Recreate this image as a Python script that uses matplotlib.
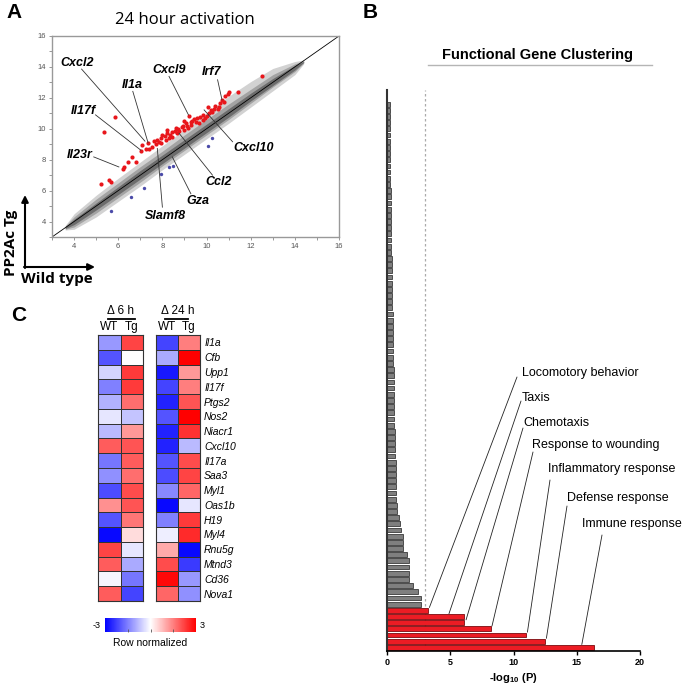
import matplotlib.pyplot as plt
import numpy as np
from matplotlib.lines import Line2D

plt.rcParams['font.family'] = ['Liberation Sans', 'DejaVu Sans']
plt.rcParams['mathtext.fontset'] = 'custom'
plt.rcParams['mathtext.bf'] = 'Liberation Sans:bold'
plt.rcParams['mathtext.rm'] = 'Liberation Sans:bold'
plt.rcParams['mathtext.default'] = 'bf'

W, H = 683, 687

# ---- panel A data (log2 expression, wild type vs PP2Ac Tg) ----
# envelope of the dense grey probe cloud
cloud_x = [3.6, 4, 5, 6, 7, 8, 9, 10, 11, 12, 13, 14, 14.4]
outer_hi = [3.75, 4.5, 5.7, 6.8, 7.85, 8.9, 9.95, 11.0, 12.1, 13.05, 13.9, 14.35, 14.45]
outer_lo = [3.45, 3.5, 4.3, 5.3, 6.3, 7.35, 8.35, 9.35, 10.35, 11.4, 12.45, 13.5, 14.2]
bulk_hi = [3.7, 4.3, 5.45, 6.5, 7.55, 8.55, 9.6, 10.6, 11.6, 12.55, 13.5, 14.2, 14.4]
bulk_lo = [3.5, 3.65, 4.55, 5.55, 6.55, 7.6, 8.6, 9.6, 10.6, 11.65, 12.7, 13.7, 14.25]
core_hi = [3.65, 4.15, 5.2, 6.25, 7.3, 8.3, 9.3, 10.3, 11.3, 12.3, 13.25, 14.1, 14.35]
core_lo = [3.55, 3.8, 4.75, 5.75, 6.75, 7.75, 8.75, 9.75, 10.75, 11.8, 12.8, 13.8, 14.3]

up_x = [5.85, 5.36, 5.2, 5.58, 5.65, 6.2, 6.26, 6.45, 6.64, 6.79, 7.05, 7.09, 7.24, 7.33,
        7.55, 7.7, 7.77, 7.92, 7.92, 8.0, 8.15, 8.23, 8.3, 8.45, 8.42, 8.6, 8.68, 8.76,
        8.88, 8.98, 9.06, 9.14, 9.21, 9.29, 9.36, 9.52, 9.59, 9.67, 9.82, 9.94, 10.05,
        10.12, 10.27, 10.39, 10.5, 10.6, 10.7, 10.85, 10.95, 11.03, 11.44, 12.5,
        7.4, 7.6, 8.1, 8.35, 8.55, 8.7, 8.95, 9.1, 9.3, 9.45, 9.7, 9.85, 10.0, 10.2,
        10.35, 10.55, 10.8, 8.2, 7.85, 9.0]
up_y = [10.79, 9.77, 6.45, 6.71, 6.58, 7.43, 7.53, 7.82, 8.18, 7.86, 8.57, 8.94, 8.68, 9.1,
        8.83, 9.0, 9.27, 9.38, 9.05, 9.6, 9.27, 9.7, 9.38, 9.49, 9.8, 10.03, 9.7, 9.88,
        10.14, 9.92, 10.35, 10.03, 10.83, 10.25, 10.53, 10.46, 10.68, 10.35, 10.9, 10.68,
        11.44, 11.0, 11.1, 11.48, 11.26, 11.65, 11.87, 12.09, 12.26, 12.41, 12.41, 13.39,
        8.7, 9.2, 9.5, 9.6, 9.85, 10.0, 10.2, 10.15, 10.45, 10.6, 10.75, 10.55, 10.85,
        11.2, 11.3, 11.4, 11.75, 9.9, 9.15, 10.5]
down_x = [5.69, 6.58, 7.15, 7.92, 8.31, 8.49, 10.06, 10.24]
down_y = [4.71, 5.6, 6.2, 7.08, 7.53, 7.62, 8.88, 9.38]

# gene label: name, text x, text y, ha, line from, line to
gene_labels = [
    ('Cxcl2', 4.14, 14.26, 'center', (4.34, 13.86), (7.21, 9.2)),
    ('Il1a', 6.64, 12.85, 'center', (6.66, 12.42), (7.35, 9.1)),
    ('Cxcl9', 8.32, 13.78, 'center', (8.3, 13.39), (9.18, 10.9)),
    ('Irf7', 10.23, 13.7, 'center', (10.5, 13.17), (10.7, 11.87)),
    ('Il17f', 4.97, 11.16, 'right', (4.97, 10.9), (7.02, 8.62)),
    ('Il23r', 4.82, 8.29, 'right', (4.89, 8.18), (6.03, 7.53)),
    ('Cxcl10', 12.15, 8.75, 'center', (11.18, 9.16), (9.89, 11.22)),
    ('Ccl2', 10.53, 6.56, 'center', (10.27, 7.0), (8.76, 9.7)),
    ('Gza', 9.62, 5.36, 'center', (9.29, 5.8), (8.45, 8.18)),
    ('Slamf8', 8.12, 4.39, 'center', (8.0, 4.93), (7.77, 8.73)),
]

# ---- panel B data ----
terms = ['Immune response', 'Defense response', 'Inflammatory response',
         'Response to wounding', 'Chemotaxis', 'Taxis', 'Locomotory behavior']
term_vals = [16.36, 12.49, 10.99, 8.22, 6.06, 6.06, 3.24]
other_vals = [2.69, 2.69, 2.45, 2.06, 1.74, 1.74, 1.71, 1.71, 1.58, 1.26, 1.26, 1.24, 1.11,
              1.0, 0.95, 0.79, 0.76, 0.74, 0.74, 0.71, 0.71, 0.71, 0.71, 0.69, 0.66, 0.66,
              0.63, 0.63, 0.61, 0.58, 0.58, 0.58, 0.58, 0.55, 0.53, 0.53, 0.53,
              0.52, 0.52, 0.5, 0.5, 0.5, 0.48, 0.47, 0.47, 0.45, 0.45, 0.44, 0.42, 0.42,
              0.41, 0.4, 0.39, 0.38, 0.37, 0.37, 0.36, 0.35, 0.34, 0.34, 0.33, 0.32, 0.31,
              0.3, 0.3, 0.29, 0.28, 0.28, 0.27, 0.26, 0.26, 0.25, 0.25, 0.24, 0.23, 0.23,
              0.22, 0.22, 0.21, 0.21, 0.2, 0.2]
cutoff = 3

# ---- panel C data (row normalized) ----
genes = ['Il1a', 'Cfb', 'Upp1', 'Il17f', 'Ptgs2', 'Nos2', 'Niacr1', 'Cxcl10', 'Il17a',
         'Saa3', 'Myl1', 'Oas1b', 'H19', 'Myl4', 'Rnu5g', 'Mtnd3', 'Cd36', 'Nova1']
wt_6h = [-1.2, -2.0, -0.5, -1.5, -0.9, -0.3, -0.8, 1.9, -1.6, -1.3, -2.1, 1.3, -2.0, -2.9,
         2.2, 1.9, -0.1, 1.9]
tg_6h = [2.2, 0.0, 2.3, 2.3, 1.7, -0.7, 1.2, 2.0, 1.9, 1.7, 2.1, 2.0, 1.6, 0.4, -0.3,
         -1.0, -1.6, -2.2]
wt_24h = [-2.2, -1.0, -2.7, -2.2, -2.6, -2.0, -2.6, -2.6, -2.0, -2.1, -1.4, -2.9, -1.5,
          -0.2, 1.0, 2.1, 2.9, 1.8]
tg_24h = [1.5, 3.0, 1.2, 1.5, 2.0, 3.0, 2.4, -0.8, 2.1, 2.2, 1.8, -0.3, 2.3, 2.5, -2.9,
          -2.3, -1.2, -1.3]

fig = plt.figure(figsize=(W / 100, H / 100), dpi=100)


def px_axes(x0, y0, x1, y1):
    return fig.add_axes([x0 / W, 1 - y1 / H, (x1 - x0) / W, (y1 - y0) / H])


def ftext(px, py, s, **kw):
    fig.text(px / W, 1 - py / H, s, **kw)


# ================= A =================
ax = px_axes(52, 36, 339, 237)
ax.fill_between(cloud_x, outer_lo, outer_hi, color='#d2d2d2', lw=0)
ax.fill_between(cloud_x, bulk_lo, bulk_hi, color='#a3a3a3', lw=0)
ax.fill_between(cloud_x, core_lo, core_hi, color='#6c6c6c', lw=0)
ax.plot([3, 16], [3, 16], color='black', lw=0.6)
ax.scatter(up_x, up_y, s=9, color='#e8161b', lw=0, zorder=3)
ax.scatter(down_x, down_y, s=6, color='#4a4aa8', lw=0, zorder=3)
for name, tx, ty, ha, p0, p1 in gene_labels:
    ax.plot([p0[0], p1[0]], [p0[1], p1[1]], color='#333333', lw=0.6, zorder=4)
    ax.text(tx, ty, name, ha=ha, va='center', fontsize=9, fontweight='bold',
            fontstyle='italic', zorder=5)
ax.set_xlim(3, 16)
ax.set_ylim(3, 16)
ax.set_xticks(range(4, 17, 2))
ax.set_yticks(range(4, 17, 2))
ax.set_xticks(range(3, 17), minor=True)
ax.set_yticks(range(3, 17), minor=True)
ax.tick_params(which='both', length=2.5, width=0.6, color='#888888',
               labelsize=5.5, labelcolor='#555555', pad=2)
for s in ax.spines.values():
    s.set_color('#999999')
    s.set_linewidth(1)

ftext(14, 12, 'A', fontsize=15, fontweight='bold', va='center', ha='center')
ftext(185, 20, '24 hour activation', fontsize=12, family='Open Sans',
      ha='center', va='center')
ax.annotate('', xy=(25, H - 195), xytext=(25, H - 268), xycoords='figure pixels',
            arrowprops=dict(arrowstyle='-|>', lw=1.5, color='black',
                            mutation_scale=10, shrinkA=0, shrinkB=0),
            annotation_clip=False)
ax.annotate('', xy=(95, H - 267), xytext=(24, H - 267), xycoords='figure pixels',
            arrowprops=dict(arrowstyle='-|>', lw=1.5, color='black',
                            mutation_scale=10, shrinkA=0, shrinkB=0),
            annotation_clip=False)
ftext(11, 243, 'PP2Ac Tg', fontsize=11, fontweight='bold', family='Open Sans',
      rotation=90, ha='center', va='center')
ftext(57, 279, 'Wild type', fontsize=11, fontweight='bold', family='Open Sans',
      ha='center', va='center')

# ================= B =================
axb = px_axes(387, 90, 640, 651)
vals = term_vals + other_vals
colors = ['#ec1c24'] * len(term_vals) + ['#7f7f7f'] * len(other_vals)
edges = ['#7a0a0e'] * len(term_vals) + ['#3a3a3a'] * len(other_vals)
idx = np.arange(len(vals))
axb.barh(idx, vals, height=0.78, color=colors, edgecolor=edges, lw=0.6, zorder=2)
axb.axvline(cutoff, color='#aaaaaa', lw=0.9, ls=(0, (2, 2)), zorder=1)
axb.set_xlim(0, 20)
axb.set_ylim(-0.6, 90.3)
axb.set_xticks([0, 5, 10, 15, 20])
axb.set_yticks([])
axb.tick_params(axis='x', length=3, width=1, labelsize=6.5, pad=2)
for t in axb.get_xticklabels():
    t.set_fontweight('bold')
axb.spines['top'].set_visible(False)
axb.spines['right'].set_visible(False)
axb.spines['left'].set_color('#333333')
axb.spines['left'].set_linewidth(1.5)
axb.spines['bottom'].set_linewidth(1.2)
axb.set_xlabel('-log$_{10}$ (P)', fontsize=8, fontweight='bold', labelpad=3)

# label text position (px), line start (px), line end x on bar (data)
term_layout = [
    ((582, 524), (602, 535), 15.4),
    ((567, 498), (567, 506), 12.6),
    ((548, 469), (550, 480), 11.1),
    ((532, 445), (533, 452), 8.3),
    ((523, 423), (523, 428), 6.25),
    ((522, 398), (521, 401), 4.9),
    ((522, 373), (517, 377), 3.35),
]
for i, (name, lay) in enumerate(zip(terms, term_layout)):
    (tx, ty), (lx, ly), xe = lay
    ftext(tx, ty, name, fontsize=9, ha='left', va='center')
    axb.annotate('', xy=(xe, i + 0.45), xytext=(lx, H - ly),
                 textcoords='figure pixels',
                 arrowprops=dict(arrowstyle='-', lw=0.6, color='#222222',
                                 shrinkA=0, shrinkB=0),
                 annotation_clip=False)

ftext(370, 12, 'B', fontsize=15, fontweight='bold', ha='center', va='center')
ftext(537, 55, 'Functional Gene Clustering', fontsize=10.5, fontweight='bold',
      ha='center', va='center')
fig.add_artist(Line2D([428 / W, 652 / W], [1 - 65 / H, 1 - 65 / H],
                      color='#b5b5b5', lw=1))

# ================= C =================
ftext(19, 315, 'C', fontsize=15, fontweight='bold', ha='center', va='center')
heat_sets = [(np.column_stack([wt_6h, tg_6h]), (98, 143), '\u0394 6 h', (108, 135)),
             (np.column_stack([wt_24h, tg_24h]), (156, 200), '\u0394 24 h', (165, 188))]
for k, (mat, (x0, x1), head, (u0, u1)) in enumerate(heat_sets):
    axh = px_axes(x0, 335, x1, 601)
    mesh = axh.pcolormesh(mat, cmap='bwr', vmin=-3, vmax=3,
                          edgecolors='#333333', linewidth=0.7)
    axh.set_ylim(len(genes), 0)
    axh.set_xticks([])
    axh.set_yticks([])
    for s in axh.spines.values():
        s.set_color('#333333')
        s.set_linewidth(0.8)
    if k == 1:
        axh.yaxis.tick_right()
        axh.set_yticks(np.arange(len(genes)) + 0.5)
        axh.set_yticklabels(genes, fontsize=7.5, fontstyle='italic')
        axh.tick_params(axis='y', length=0, pad=3)
    cx = (x0 + x1) / 2
    ftext(cx, 311, head, fontsize=8.5, ha='center', va='center')
    fig.add_artist(Line2D([u0 / W, u1 / W], [1 - 318.5 / H] * 2, color='black', lw=1.3))
    ftext(x0 + 11, 327, 'WT', fontsize=8.5, ha='center', va='center')
    ftext(x1 - 11, 327, 'Tg', fontsize=8.5, ha='center', va='center')

cax = px_axes(105, 618, 196, 632)
cb = fig.colorbar(mesh, cax=cax, orientation='horizontal')
cb.outline.set_visible(False)
cb.set_ticks([-1.5, 0, 1.5])
cax.tick_params(axis='x', direction='in', length=2, width=0.6, color='#555555',
                labelbottom=False)
ftext(101, 625, '-3', fontsize=6.5, ha='right', va='center')
ftext(200, 625, '3', fontsize=6.5, ha='left', va='center')
ftext(150, 643, 'Row normalized', fontsize=7.5, ha='center', va='center')

fig.savefig('out.png', dpi=100)
